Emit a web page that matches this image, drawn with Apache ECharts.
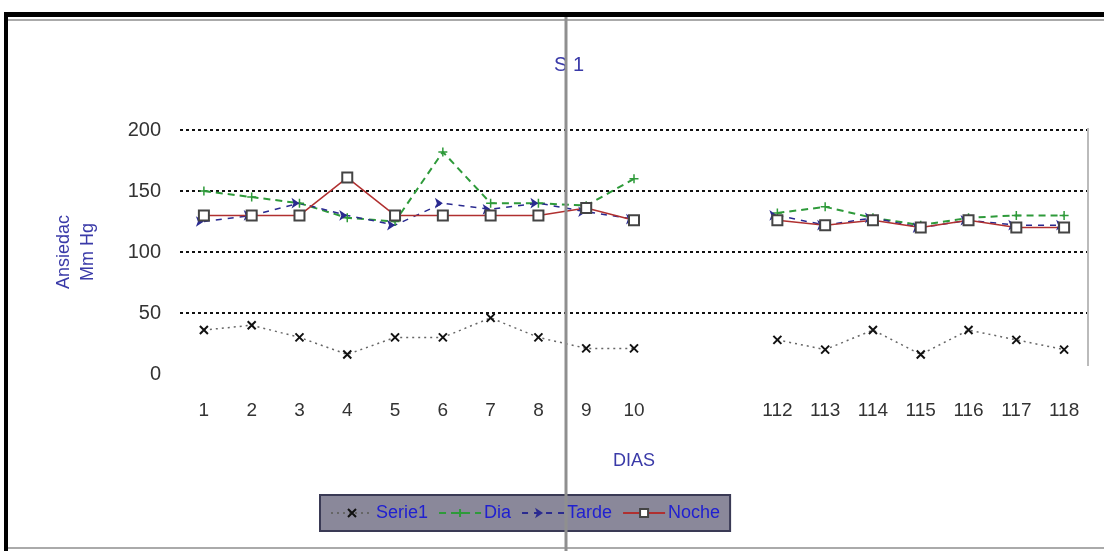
<!DOCTYPE html>
<html><head><meta charset="utf-8">
<script src="https://cdn.jsdelivr.net/npm/echarts@6/dist/echarts.min.js"></script>
<style>html,body{margin:0;padding:0;background:#fff}#c{width:1104px;height:551px}</style>
</head><body><div id="c"></div>
<script>
const categories = ['1','2','3','4','5','6','7','8','9','10','','','112','113','114','115','116','117','118'];
const serie1 = [36, 40, 30, 16, 30, 30, 46, 30, 21, 21, null, null, 28, 20, 36, 16, 36, 28, 20];
const dia    = [150, 145, 140, 128, 125, 182, 140, 140, 138, 160, null, null, 132, 137, 128, 122, 128, 130, 130];
const tarde  = [125, 130, 140, 130, 122, 140, 135, 140, 133, 127, null, null, 130, 122, 128, 120, 126, 122, 122];
const noche  = [130, 130, 130, 161, 130, 130, 130, 130, 136, 126, null, null, 126, 122, 126, 120, 126, 120, 120];
const yTicks = [0, 50, 100, 150, 200];

const xMark = 'path://M0,0L10,10M10,0L0,10';
const plusMark = 'path://M5,0L5,10M0,5L10,5';
const font = 'Liberation Sans, Arial, sans-serif';

const chart = echarts.init(document.getElementById('c'), null, {renderer: 'canvas'});
chart.setOption({
  animation: false,
  backgroundColor: '#fff',
  textStyle: {fontFamily: font},
  title: {
    text: 'S 1', left: 549, top: 50,
    textStyle: {color: '#3a3aa8', fontSize: 20, fontWeight: 'normal', fontFamily: font}
  },
  grid: {left: 180, right: 16, top: 130, bottom: 177, containLabel: false},
  xAxis: {
    type: 'category', data: categories, boundaryGap: true,
    name: 'DIAS', nameLocation: 'middle', nameGap: 78,
    nameTextStyle: {color: '#3a3aa8', fontSize: 18, fontFamily: font},
    axisLine: {show: false}, axisTick: {show: false},
    axisLabel: {color: '#333', fontSize: 19, margin: 27, interval: 0, fontFamily: font},
    splitLine: {show: false}
  },
  yAxis: {
    type: 'value', min: yTicks[0], max: yTicks[yTicks.length - 1], interval: 50,
    name: 'Ansiedac\nMm Hg', nameLocation: 'middle', nameGap: 80, nameRotate: 90,
    nameTextStyle: {color: '#3a3aa8', fontSize: 18, lineHeight: 24, fontFamily: font},
    axisLine: {show: false}, axisTick: {show: false},
    axisLabel: {color: '#333', fontSize: 20, margin: 19, fontFamily: font},
    splitLine: {show: true, showMinLine: false, lineStyle: {color: '#111', type: [3, 3], width: 2}}
  },
  legend: {
    left: 320, top: 495,
    backgroundColor: '#8a889a', borderColor: '#3a3a55', borderWidth: 2,
    padding: [9, 10, 9, 10], itemGap: 10, itemWidth: 42, itemHeight: 10,
    textStyle: {color: '#2020d0', fontSize: 18, fontFamily: font, padding: [0, 0, 0, -2]},
    data: ['Serie1', 'Dia', 'Tarde', 'Noche']
  },
  series: [
    {name: 'Serie1', type: 'line', data: serie1, symbol: xMark, symbolSize: 8,
     itemStyle: {color: '#111', borderColor: '#111', borderWidth: 2},
     lineStyle: {color: '#666', type: [2, 4], width: 1.5}},
    {name: 'Dia', type: 'line', data: dia, symbol: plusMark, symbolSize: 9,
     itemStyle: {color: '#2e9a3a', borderColor: '#2e9a3a', borderWidth: 1.5},
     lineStyle: {color: '#2e9a3a', type: [7, 5], width: 2}},
    {name: 'Tarde', type: 'line', data: tarde, symbol: 'arrow', symbolSize: 8, symbolRotate: -90,
     itemStyle: {color: '#2a2a90'},
     lineStyle: {color: '#2a2a90', type: [6, 6], width: 1.5}},
    {name: 'Noche', type: 'line', data: noche, symbol: 'emptyRect', symbolSize: 10,
     itemStyle: {color: '#444', borderColor: '#444', borderWidth: 2},
     lineStyle: {color: '#b03030', width: 1.5}}
  ],
  graphic: [
    {type: 'rect', shape: {x: 4, y: 12, width: 1100, height: 5}, style: {fill: '#000'}, z: 100},
    {type: 'rect', shape: {x: 4, y: 12, width: 4, height: 539}, style: {fill: '#000'}, z: 100},
    {type: 'line', shape: {x1: 8, y1: 20, x2: 1104, y2: 20}, style: {stroke: '#aaa', lineWidth: 2}, z: 100},
    {type: 'line', shape: {x1: 8, y1: 548, x2: 1104, y2: 548}, style: {stroke: '#aaa', lineWidth: 2}, z: 100},
    {type: 'line', shape: {x1: 1088, y1: 128, x2: 1088, y2: 366}, style: {stroke: '#bbb', lineWidth: 2}, z: 100},
    {type: 'line', shape: {x1: 566, y1: 17, x2: 566, y2: 551}, style: {stroke: '#8f8f8f', lineWidth: 3}, z: 100}
  ]
});
</script></body></html>
